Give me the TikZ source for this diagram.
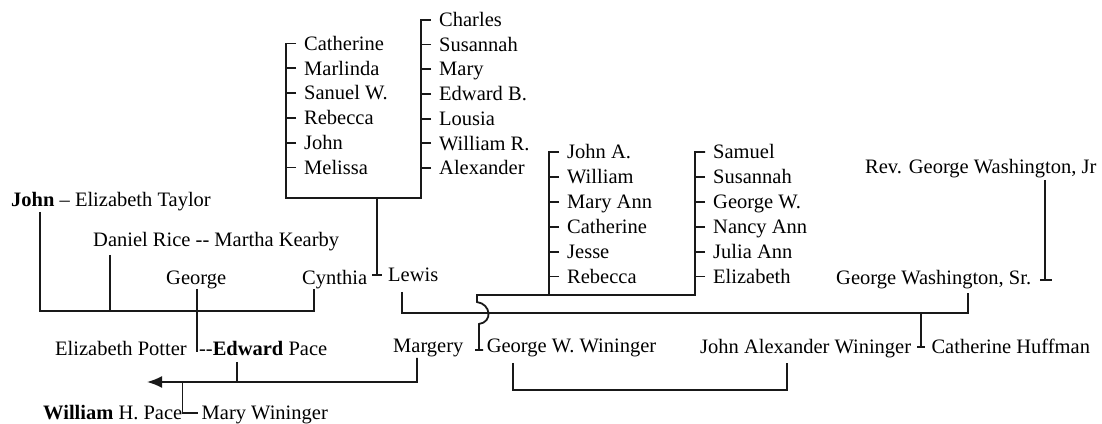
\documentclass[tikz,border=0pt]{standalone}
\usepackage{fontspec}
\setmainfont{Liberation Serif}
\usetikzlibrary{arrows.meta,positioning}

\begin{document}
\begin{tikzpicture}[
  x=1pt, y=-1pt,
  font=\fontsize{20.5}{24}\selectfont,
  pn/.style={anchor=west, inner sep=0pt, text height=13.5pt, text depth=0pt},
  ln/.style={line width=1.8pt, black!90},
  ar/.style={ln, -{Latex[length=15pt,width=12pt]}}
]
\useasboundingbox (0,0) rectangle (1102,423);

% left branch
\node[pn] (john) at (11,200) {\textbf{John} -- Elizabeth Taylor};
\node[pn] (daniel) at (93,240) {Daniel Rice -{}- Martha Kearby};
\node[pn] (george) at (166,278) {George};
\node[pn] (cynthia) at (302,278) {Cynthia};
\node[pn] (lewis) at (388,275) {Lewis};
\node[pn] (eliz) at (55,349) {Elizabeth Potter};
\node[pn, right=12pt of eliz] (edward) {-{}-\textbf{Edward} Pace};
\node[pn] (william) at (43,413) {\textbf{William} H. Pace};
\node[pn, right=19pt of william] (mary) {Mary Wininger};

% right branch
\node[pn] (margery) at (393,346) {Margery};
\node[pn, right=23pt of margery] (gww) {George W. Wininger};
\node[pn] (jaw) at (700,347) {John Alexander Wininger};
\node[pn, right=20pt of jaw] (huff) {Catherine Huffman};
\node[pn] (gwsr) at (836,278) {George Washington, Sr.};
\node[pn] (gwjr) at (865,167) {Rev. George Washington, Jr};

% children lists
\foreach \nm [count=\i] in {Catherine,Marlinda,Sanuel W.,Rebecca,John,Melissa}
  \node[pn] (ka\i) at (304,{43.5+24.8*(\i-1)}) {\nm};
\foreach \nm [count=\i] in {Charles,Susannah,Mary,Edward B.,Lousia,William R.,Alexander}
  \node[pn] (kb\i) at (439,{19.8+24.7*(\i-1)}) {\nm};
\foreach \nm [count=\i] in {John A.,William,Mary Ann,Catherine,Jesse,Rebecca}
  \node[pn] (ja\i) at (567,{152+24.9*(\i-1)}) {\nm};
\foreach \nm [count=\i] in {Samuel,Susannah,George W.,Nancy Ann,Julia Ann,Elizabeth}
  \node[pn] (sm\i) at (713,{152+24.9*(\i-1)}) {\nm};

% ticks
\foreach \k in {ka2,ka3,ka4,ka5,ka6,kb2,kb3,kb4,kb5,kb6,kb7,ja2,ja3,ja4,ja5,ja6,sm2,sm3,sm4,sm5,sm6}
  \draw[ln] ([xshift=-8pt]\k.west) -- ++(-10,0);

\coordinate (kdrop) at (377,198);
\coordinate (wjoin) at (921,313);
\coordinate (tip) at (147,382);

% brackets
\draw[ln] ([xshift=-8pt]ka1.west) -| ([xshift=-18pt,yshift=-30.5pt]ka6.west)
  -| ([xshift=-18pt]kb1.west) -- ([xshift=-8pt]kb1.west);
\draw[ln] (kdrop) -- (kdrop |- lewis.west) ++(-5,0) -- ++(10,0);
\draw[ln] ([xshift=-8pt]ja1.west) -| ([xshift=-18pt,yshift=-18.5pt]ja6.west);
\draw[ln] ([xshift=-8pt]sm1.west) -| ([xshift=-18pt,yshift=-18.5pt]sm6.west)
  -- ++(-218,0) -- ++(0,7) .. controls +(14,2) and +(14,-2) .. ++(2,22)
  -- ++(0,26) ++(-4,0) -- ++(8,0);

% family lines
\draw[ln] ([xshift=29pt,yshift=-5pt]john.south west) -- ++(0,99)
  -| ([xshift=12pt,yshift=-4pt]cynthia.south west);
\draw[ln] ([xshift=17pt,yshift=-8pt]daniel.south west) -- ++(0,56);
\draw[ln] ([xshift=31pt,yshift=-4pt]george.south west) -- ++(0,63);
\draw[ln] ([xshift=14pt,yshift=-10pt]lewis.south west) -- ++(0,21)
  -| ([xshift=132pt,yshift=-8pt]gwsr.south west);
\draw[ln] (wjoin) -- (wjoin |- huff.west) ++(-4,0) -- ++(8,0);
\draw[ln] ([xshift=180pt,yshift=-6pt]gwjr.south west) -- ++(0,100)
  ++(-5,0) -- ++(12,0);
\draw[ar] ([xshift=24pt,yshift=-5pt]margery.south west) -- ++(0,24) -- (tip);
\draw[ln] ([xshift=38pt,yshift=-6pt]edward.south west) -- ++(0,20);
\draw[ln] (william.east |- tip) |- ([xshift=-4pt]mary.west);
\draw[ln] ([xshift=26pt,yshift=-10pt]gww.south west) -- ++(0,27)
  -| ([xshift=87pt,yshift=-9pt]jaw.south west);
\end{tikzpicture}
\end{document}
